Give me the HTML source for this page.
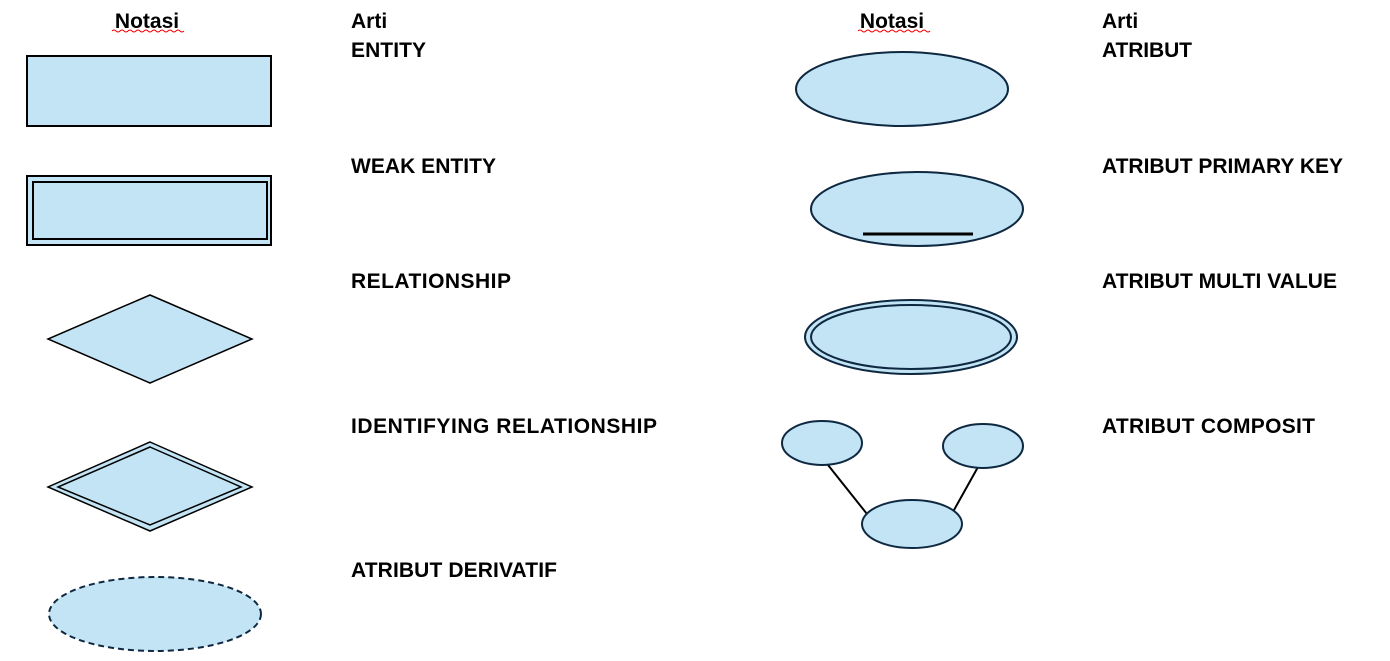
<!DOCTYPE html>
<html><head><meta charset="utf-8"><style>
html,body{margin:0;padding:0;background:#fff;}
svg{display:block;}
text{font-family:"Liberation Sans",sans-serif;font-weight:bold;font-size:21px;fill:#000;}
</style></head><body>
<svg width="1390" height="661" viewBox="0 0 1390 661">
<g fill="#c2e4f4">
<text x="147" y="28" text-anchor="middle">Notasi</text>
<text x="351" y="28">Arti</text>
<text x="351" y="57" textLength="75">ENTITY</text>
<text x="351" y="173" textLength="145">WEAK ENTITY</text>
<text x="351" y="288" textLength="160">RELATIONSHIP</text>
<text x="351" y="433" textLength="306">IDENTIFYING RELATIONSHIP</text>
<text x="351" y="577" textLength="206">ATRIBUT DERIVATIF</text>
<text x="892" y="28" text-anchor="middle">Notasi</text>
<text x="1102" y="28">Arti</text>
<text x="1102" y="57" textLength="90">ATRIBUT</text>
<text x="1102" y="173" textLength="241">ATRIBUT PRIMARY KEY</text>
<text x="1102" y="288" textLength="235">ATRIBUT MULTI VALUE</text>
<text x="1102" y="433" textLength="213">ATRIBUT COMPOSIT</text>
<path d="M112 31 q2 -2 4 0 t4 0 t4 0 t4 0 t4 0 t4 0 t4 0 t4 0 t4 0 t4 0 t4 0 t4 0 t4 0 t4 0 t4 0 t4 0 t4 0 t4 0" fill="none" stroke="#e00" stroke-width="1"/>
<path d="M858 31 q2 -2 4 0 t4 0 t4 0 t4 0 t4 0 t4 0 t4 0 t4 0 t4 0 t4 0 t4 0 t4 0 t4 0 t4 0 t4 0 t4 0 t4 0 t4 0" fill="none" stroke="#e00" stroke-width="1"/>
<rect x="27" y="56" width="244" height="70" stroke="#000" stroke-width="2"/>
<rect x="27" y="176" width="244" height="69" stroke="#000" stroke-width="2"/>
<rect x="33" y="182" width="234" height="57" stroke="#000" stroke-width="2"/>
<polygon points="150,295 252,339 150,383 48,339" stroke="#000" stroke-width="1.5"/>
<polygon points="150,442 252,487 150,531 48,487" stroke="#000" stroke-width="1.5"/>
<polygon points="150,447 241,487 150,525 58,487" stroke="#000" stroke-width="1.5"/>
<ellipse cx="155" cy="614" rx="106" ry="37" stroke="#0e2841" stroke-width="2" stroke-dasharray="6,4"/>
<ellipse cx="902" cy="89" rx="106" ry="37" stroke="#0e2841" stroke-width="2"/>
<ellipse cx="917" cy="209" rx="106" ry="37" stroke="#0e2841" stroke-width="2"/>
<line x1="863" y1="234" x2="973" y2="234" stroke="#000" stroke-width="3"/>
<ellipse cx="911" cy="337" rx="106" ry="37" stroke="#0e2841" stroke-width="2"/>
<ellipse cx="911" cy="337" rx="100" ry="32" stroke="#0e2841" stroke-width="2"/>
<line x1="828" y1="465" x2="867" y2="514" stroke="#000" stroke-width="2"/>
<line x1="978" y1="467" x2="954" y2="510" stroke="#000" stroke-width="2"/>
<ellipse cx="822" cy="443" rx="40" ry="22" stroke="#0e2841" stroke-width="2"/>
<ellipse cx="983" cy="446" rx="40" ry="22" stroke="#0e2841" stroke-width="2"/>
<ellipse cx="912" cy="524" rx="50" ry="24" stroke="#0e2841" stroke-width="2"/>
</g>
</svg>
</body></html>
